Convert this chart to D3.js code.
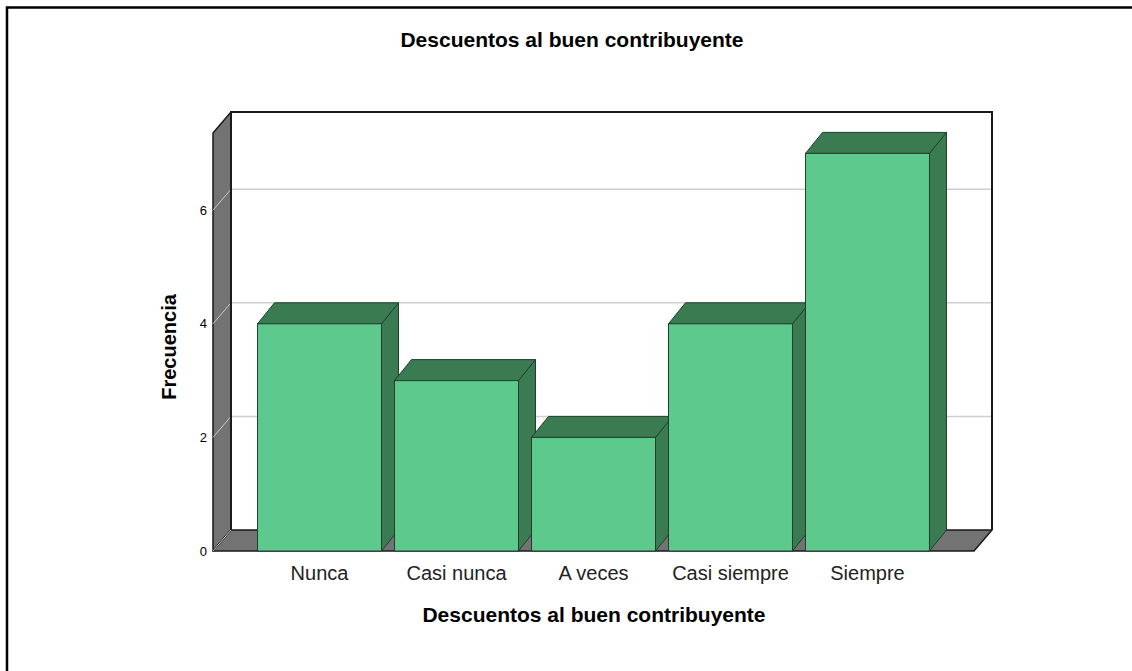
<!DOCTYPE html>
<html>
<head>
<meta charset="utf-8">
<script src="https://cdn.jsdelivr.net/npm/d3@7"></script>
<style>
  body { margin: 0; background: #fff; }
  text { font-family: "Liberation Sans", Arial, sans-serif; }
</style>
</head>
<body>
<svg></svg>
<script>
const categories = ["Nunca", "Casi nunca", "A veces", "Casi siempre", "Siempre"];
const counts = [4, 3, 2, 4, 7];
const yTicks = [0, 2, 4, 6];
const yMax = 7.36;

const width = 1132;
const height = 671;

// front plane of the 3D box
const plotLeft = 213, plotRight = 974, plotBottom = 551;
const plotTop = plotBottom - yMax * 56.8;
// wall depth and bar depth offsets
const wdx = 18, wdy = -21;
const bdx = 17, bdy = -21;

const svg = d3.select("svg")
  .attr("width", width)
  .attr("height", height);

// outer frame
svg.append("path")
  .attr("d", `M7,${height + 5} V7.5 H${width + 5}`)
  .attr("fill", "none")
  .attr("stroke", "#000")
  .attr("stroke-width", 2.5);

const xScale = d3.scaleBand()
  .domain(categories)
  .range([plotLeft, plotRight])
  .paddingInner(0.095)
  .paddingOuter(0.325);

const yScale = d3.scaleLinear()
  .domain([0, yMax])
  .range([plotBottom, plotTop]);

const line = d3.line();

// back wall
svg.append("rect")
  .attr("x", plotLeft + wdx)
  .attr("y", plotTop + wdy)
  .attr("width", plotRight - plotLeft)
  .attr("height", plotBottom - plotTop)
  .attr("fill", "#fff");

// left wall
svg.append("path")
  .attr("d", line([[plotLeft, plotBottom], [plotLeft, plotTop], [plotLeft + wdx, plotTop + wdy], [plotLeft + wdx, plotBottom + wdy]]) + "Z")
  .attr("fill", "#737373")
  .attr("stroke", "#1a1a1a")
  .attr("stroke-width", 1.5)
  .attr("stroke-linejoin", "round");

// floor
svg.append("path")
  .attr("d", line([[plotLeft, plotBottom], [plotRight, plotBottom], [plotRight + wdx, plotBottom + wdy], [plotLeft + wdx, plotBottom + wdy]]) + "Z")
  .attr("fill", "#737373")
  .attr("stroke", "#1a1a1a")
  .attr("stroke-width", 1.5)
  .attr("stroke-linejoin", "round");

// gridlines on back wall and left wall
const grid = svg.append("g");
yTicks.filter(d => d > 0).forEach(d => {
  const y = yScale(d);
  grid.append("line")
    .attr("x1", plotLeft + wdx).attr("x2", plotRight + wdx)
    .attr("y1", y + wdy).attr("y2", y + wdy)
    .attr("stroke", "#cfcfcf").attr("stroke-width", 1.5);
  grid.append("line")
    .attr("x1", plotLeft).attr("x2", plotLeft + wdx)
    .attr("y1", y).attr("y2", y + wdy)
    .attr("stroke", "#c8c8c8").attr("stroke-width", 1);
});
grid.append("line")
  .attr("x1", plotLeft).attr("x2", plotLeft + wdx)
  .attr("y1", plotBottom).attr("y2", plotBottom + wdy)
  .attr("stroke", "#c8c8c8").attr("stroke-width", 1);

// back wall outline (left, top, right edges)
svg.append("path")
  .attr("d", line([[plotLeft + wdx, plotBottom + wdy], [plotLeft + wdx, plotTop + wdy], [plotRight + wdx, plotTop + wdy], [plotRight + wdx, plotBottom + wdy]]))
  .attr("fill", "none")
  .attr("stroke", "#1a1a1a")
  .attr("stroke-width", 2);

// bars
const bars = svg.append("g")
  .selectAll("g")
  .data(categories.map((c, i) => ({ cat: c, value: counts[i] })))
  .enter()
  .append("g");

bars.each(function (d) {
  const g = d3.select(this);
  const x = xScale(d.cat);
  const w = xScale.bandwidth();
  const y = yScale(d.value);
  g.append("path")
    .attr("d", line([[x + w, y], [x + w + bdx, y + bdy], [x + w + bdx, plotBottom + bdy], [x + w, plotBottom]]) + "Z")
    .attr("fill", "#3a7b52")
    .attr("stroke", "#203f2c")
    .attr("stroke-width", 1);
  g.append("path")
    .attr("d", line([[x, y], [x + bdx, y + bdy], [x + w + bdx, y + bdy], [x + w, y]]) + "Z")
    .attr("fill", "#3a7b52")
    .attr("stroke", "#203f2c")
    .attr("stroke-width", 1);
  g.append("rect")
    .attr("x", x)
    .attr("y", y)
    .attr("width", w)
    .attr("height", plotBottom - y)
    .attr("fill", "#5dc98d")
    .attr("stroke", "#203f2c")
    .attr("stroke-width", 1);
});

// y tick labels
svg.append("g")
  .selectAll("text")
  .data(yTicks)
  .enter()
  .append("text")
  .attr("x", plotLeft - 6)
  .attr("y", d => yScale(d))
  .attr("dy", "0.35em")
  .style("text-anchor", "end")
  .style("font-size", "13px")
  .text(d => d);

// category labels
svg.append("g")
  .selectAll("text")
  .data(categories)
  .enter()
  .append("text")
  .attr("x", d => xScale(d) + xScale.bandwidth() / 2)
  .attr("y", 580)
  .style("text-anchor", "middle")
  .style("font-size", "20px")
  .style("fill", "#222")
  .text(d => d);

svg.append("text")
  .attr("x", 572)
  .attr("y", 47)
  .style("text-anchor", "middle")
  .style("font-size", "21px")
  .style("font-weight", "bold")
  .text("Descuentos al buen contribuyente");

svg.append("text")
  .attr("x", 594)
  .attr("y", 622)
  .style("text-anchor", "middle")
  .style("font-size", "21px")
  .style("font-weight", "bold")
  .text("Descuentos al buen contribuyente");

svg.append("text")
  .attr("transform", "rotate(-90)")
  .attr("x", -347)
  .attr("y", 176)
  .style("text-anchor", "middle")
  .style("font-size", "20px")
  .style("font-weight", "bold")
  .text("Frecuencia");
</script>
</body>
</html>
